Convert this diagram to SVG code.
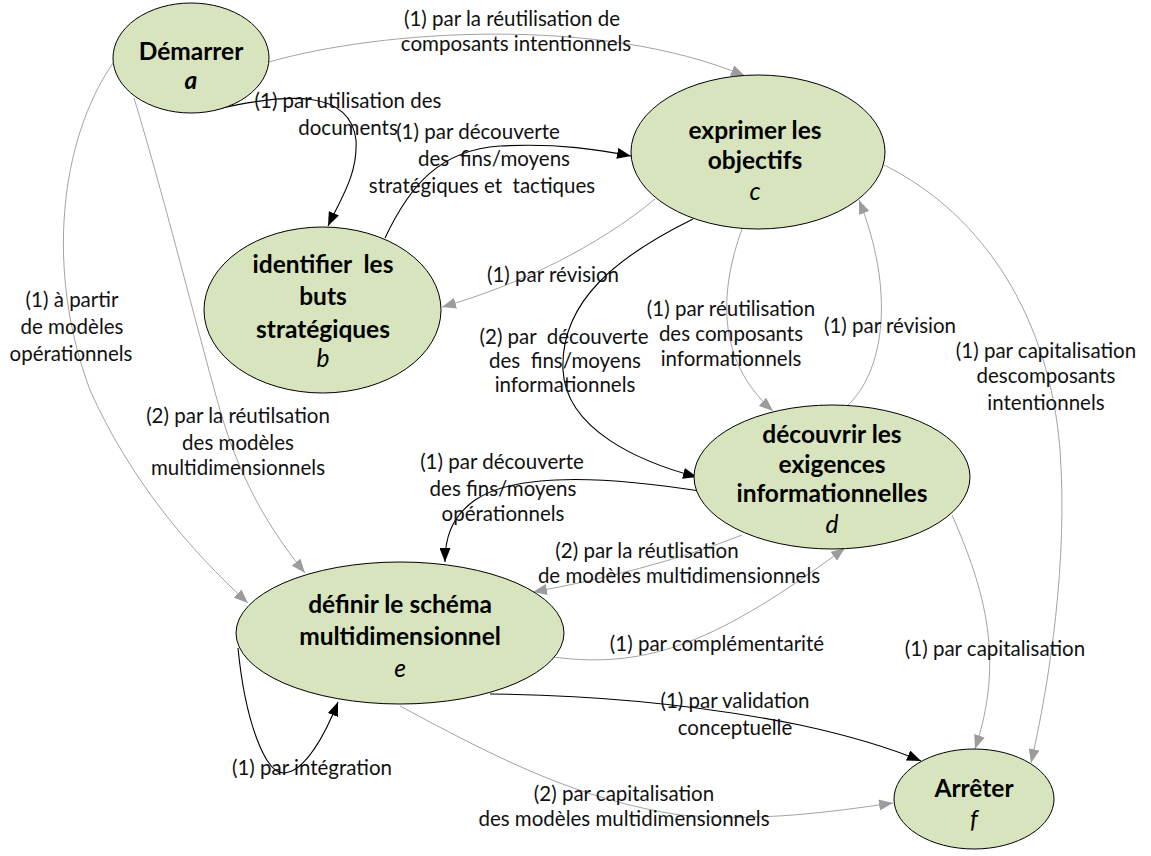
<svg xmlns="http://www.w3.org/2000/svg" width="1151" height="856" viewBox="0 0 1151 856">
<defs>
<marker id="ab" markerUnits="userSpaceOnUse" markerWidth="14" markerHeight="11" refX="14" refY="5.5" orient="auto"><path d="M0,0 L14,5.5 L0,11 z" fill="#000"/></marker>
<marker id="ag" markerUnits="userSpaceOnUse" markerWidth="14" markerHeight="11" refX="14" refY="5.5" orient="auto"><path d="M0,0 L14,5.5 L0,11 z" fill="#9c9c9c"/></marker>
<style>
.n{fill:#d7e4bd;stroke:#000;stroke-width:1}
.t{font-family:Lato,"Liberation Sans",sans-serif;font-size:24.5px;font-weight:bold;fill:#000;text-anchor:middle;dominant-baseline:central}
.ti{font-family:Lato,"Liberation Sans",sans-serif;font-size:24.5px;font-style:italic;fill:#000;text-anchor:middle;dominant-baseline:central}
.l{font-family:Lato,"Liberation Sans",sans-serif;font-size:20.5px;fill:#111;text-anchor:middle;dominant-baseline:central}
.k{fill:none;stroke:#000;stroke-width:1.1;marker-end:url(#ab)}
.g{fill:none;stroke:#a3a3a3;stroke-width:1;marker-end:url(#ag)}
</style>
</defs>
<rect width="1151" height="856" fill="#fff"/>
<g id="connectors">
<path class="g" d="M269,62 C380,30 600,15 745,76"/>
<path class="k" d="M213,110 C290,92 350,90 356,140 C358,175 340,200 328,226"/>
<path class="k" d="M385,238 C410,185 440,150 500,146 C560,143 600,150 631,156"/>
<path class="g" d="M655,199 C600,245 520,285 442,307"/>
<path class="k" d="M693,219 C620,255 560,300 563,370 C566,430 640,462 697,477"/>
<path class="g" d="M742,229 C720,290 715,360 773,411"/>
<path class="g" d="M848,405 C885,370 895,290 859,200"/>
<path class="g" d="M884,165 C985,215 1050,320 1060,450 C1068,560 1050,680 1031,763"/>
<path class="g" d="M952,515 C985,590 1005,660 975,749"/>
<path class="g" d="M113,63 C60,140 45,270 90,390 C130,480 190,550 248,603"/>
<path class="g" d="M134,98 C165,200 200,340 220,410 C240,480 270,530 305,573"/>
<path class="k" d="M706,492 C620,478 520,470 475,500 C450,518 445,540 445,562"/>
<path class="g" d="M742,535 C680,560 600,580 533,592"/>
<path class="g" d="M553,657 C650,670 720,640 845,548"/>
<path class="k" d="M490,694 C600,695 700,705 800,725 C860,738 895,750 921,761"/>
<path class="g" d="M400,706 C500,760 580,800 680,815 C760,822 830,812 893,803"/>
<path class="k" d="M238,648 C245,720 265,775 285,773 C305,771 325,735 338,702"/>
</g>
<g id="labels">
<text class="l" x="512" y="18">(1) par la réutilisation de</text>
<text class="l" x="516" y="43">composants intentionnels</text>
<text class="l" x="348" y="100">(1) par utilisation des</text>
<text class="l" x="348" y="127">documents</text>
<text class="l" x="478" y="131">(1) par découverte</text>
<text class="l" x="494" y="158" xml:space="preserve">des  fins/moyens</text>
<text class="l" x="482" y="185" xml:space="preserve">stratégiques et  tactiques</text>
<text class="l" x="553" y="274">(1) par révision</text>
<text class="l" x="564" y="336" xml:space="preserve">(2) par  découverte</text>
<text class="l" x="565" y="360" xml:space="preserve">des  fins/moyens</text>
<text class="l" x="565" y="384">informationnels</text>
<text class="l" x="731" y="308">(1) par réutilisation</text>
<text class="l" x="731" y="333">des composants</text>
<text class="l" x="731" y="358">informationnels</text>
<text class="l" x="890" y="325">(1) par révision</text>
<text class="l" x="1046" y="350">(1) par capitalisation</text>
<text class="l" x="1046" y="375">descomposants</text>
<text class="l" x="1046" y="402">intentionnels</text>
<text class="l" x="72" y="299">(1) à partir</text>
<text class="l" x="72" y="326">de modèles</text>
<text class="l" x="71" y="353">opérationnels</text>
<text class="l" x="238" y="415">(2) par la réutilsation</text>
<text class="l" x="238" y="442">des modèles</text>
<text class="l" x="238" y="467">multidimensionnels</text>
<text class="l" x="502" y="461">(1) par découverte</text>
<text class="l" x="503" y="488">des fins/moyens</text>
<text class="l" x="503" y="513">opérationnels</text>
<text class="l" x="647" y="550">(2) par la réutlisation</text>
<text class="l" x="679" y="575">de modèles multidimensionnels</text>
<text class="l" x="717" y="643">(1) par complémentarité</text>
<text class="l" x="735" y="700">(1) par validation</text>
<text class="l" x="735" y="727">conceptuelle</text>
<text class="l" x="624" y="793">(2) par capitalisation</text>
<text class="l" x="624" y="818">des modèles multidimensionnels</text>
<text class="l" x="312" y="767">(1) par intégration</text>
<text class="l" x="995" y="648">(1) par capitalisation</text>
</g>
<g id="node-a">
<ellipse class="n" cx="191" cy="58" rx="78" ry="55"/>
<text class="t" x="191" y="50">Démarrer</text>
<text class="t" x="191" y="79" font-style="italic">a</text>
</g>
<g id="node-b">
<ellipse class="n" cx="322.5" cy="310" rx="118.5" ry="83"/>
<text class="t" x="323" y="263" xml:space="preserve">identifier  les</text>
<text class="t" x="323" y="295">buts</text>
<text class="t" x="323" y="328">stratégiques</text>
<text class="ti" x="323" y="357">b</text>
</g>
<g id="node-c">
<ellipse class="n" cx="758" cy="152" rx="127" ry="77"/>
<text class="t" x="755" y="129">exprimer les</text>
<text class="t" x="755" y="159">objectifs</text>
<text class="ti" x="755" y="190">c</text>
</g>
<g id="node-d">
<ellipse class="n" cx="832" cy="477" rx="138" ry="72"/>
<text class="t" x="832" y="433">découvrir les</text>
<text class="t" x="832" y="463">exigences</text>
<text class="t" x="832" y="492">informationnelles</text>
<text class="ti" x="832" y="523">d</text>
</g>
<g id="node-e">
<ellipse class="n" cx="400" cy="633" rx="164" ry="71"/>
<text class="t" x="400" y="603">définir le schéma</text>
<text class="t" x="400" y="635">multidimensionnel</text>
<text class="ti" x="400" y="667">e</text>
</g>
<g id="node-f">
<ellipse class="n" cx="974" cy="799" rx="80" ry="50"/>
<text class="t" x="974" y="787">Arrêter</text>
<text class="ti" x="974" y="818">f</text>
</g>
</svg>
